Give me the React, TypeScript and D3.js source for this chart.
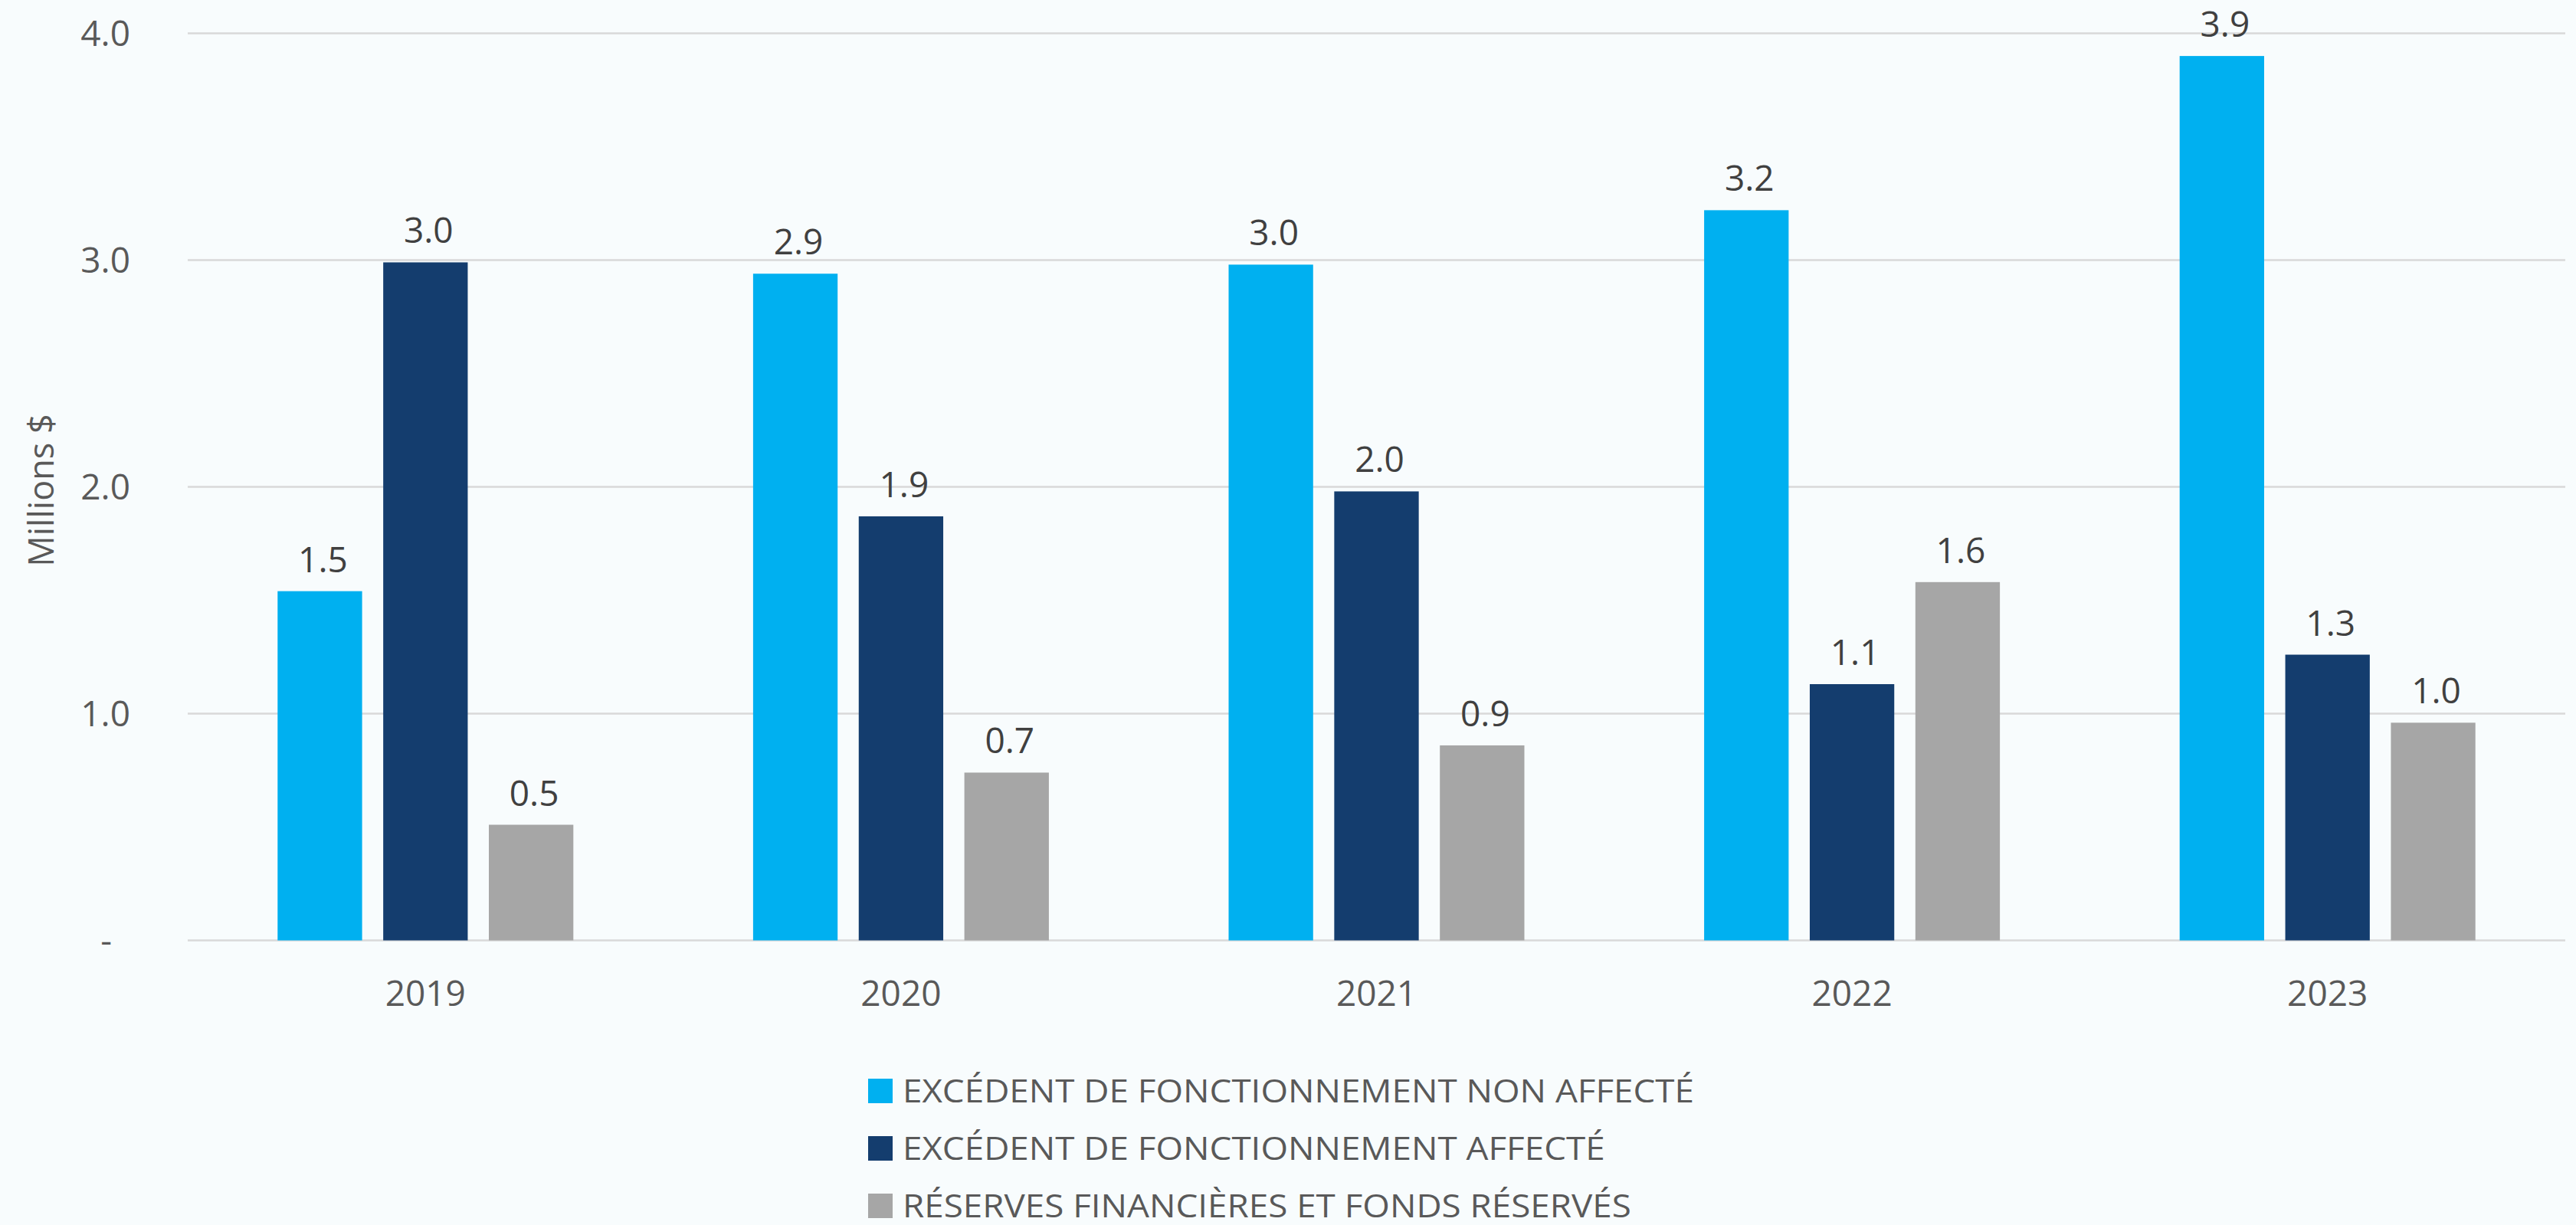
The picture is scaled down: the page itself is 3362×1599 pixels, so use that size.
import React from "react";
import * as d3 from "d3";

const years = ["2019", "2020", "2021", "2022", "2023"];
const seriesNames = [
  "EXCÉDENT DE FONCTIONNEMENT NON AFFECTÉ",
  "EXCÉDENT DE FONCTIONNEMENT AFFECTÉ",
  "RÉSERVES FINANCIÈRES ET FONDS RÉSERVÉS",
];
const nonAffecte = [1.54, 2.94, 2.98, 3.22, 3.9];
const affecte = [2.99, 1.87, 1.98, 1.13, 1.26];
const reserves = [0.51, 0.74, 0.86, 1.58, 0.96];
const yTicks = [0, 1, 2, 3, 4];
const yAxisTitle = "Millions $";
const colors = ["#00B0F0", "#143D6E", "#A6A6A6"];

const W = 3362;
const H = 1599;
const FONT = "'Open Sans', 'Noto Sans', sans-serif";

export default function App() {
  const seriesValues = [nonAffecte, affecte, reserves];
  const y = d3.scaleLinear().domain([0, 4]).range([1227.5, 43.5]);
  const x0 = d3.scaleBand<string>().domain(years).range([245, 3348]).padding(0);
  const groupW = 386;
  const x1 = d3
    .scaleBand<number>()
    .domain([0, 1, 2])
    .range([0, groupW])
    .paddingInner(0.2)
    .paddingOuter(0);
  const off = (x0.bandwidth() - groupW) / 2;
  const fmt = d3.format(".1f");

  return (
    <svg
      width={W}
      height={H}
      style={{ position: "absolute", left: 0, top: 0, display: "block" }}
    >
      <rect x={0} y={0} width={W} height={H} fill="#F8FCFD" />
      {/* gridlines */}
      {yTicks.map((t) => (
        <line
          key={"g" + t}
          x1={245}
          x2={3348}
          y1={y(t)}
          y2={y(t)}
          stroke="#D9D9D9"
          strokeWidth={2.5}
        />
      ))}
      {/* y tick labels */}
      {yTicks.map((t) => (
        <text
          key={"t" + t}
          x={t === 0 ? 146 : 170}
          y={y(t)}
          dy="0.35em"
          textAnchor="end"
          fontFamily={FONT}
          fontSize={46}
          fill="#595959"
        >
          {t === 0 ? "-" : fmt(t)}
        </text>
      ))}
      {/* y axis title */}
      <text
        transform={`translate(70, 640) rotate(-90)`}
        textAnchor="middle"
        fontFamily={FONT}
        fontSize={45}
        fill="#595959"
      >
        {yAxisTitle}
      </text>
      {/* bars */}
      {years.map((yr, i) => (
        <g key={yr} transform={`translate(${(x0(yr) as number) + off},0)`}>
          {seriesValues.map((vals, s) => {
            const bx = x1(s) as number;
            const bw = x1.bandwidth();
            return (
              <g key={s}>
                <rect
                  x={bx}
                  y={y(vals[i])}
                  width={bw}
                  height={y(0) - y(vals[i])}
                  fill={colors[s]}
                />
                <text
                  x={bx + bw / 2 + 4}
                  y={y(vals[i]) - 25}
                  textAnchor="middle"
                  fontFamily={FONT}
                  fontSize={46}
                  fill="#404040"
                >
                  {fmt(vals[i])}
                </text>
              </g>
            );
          })}
        </g>
      ))}
      {/* x labels */}
      {years.map((yr) => (
        <text
          key={"x" + yr}
          x={(x0(yr) as number) + x0.bandwidth() / 2}
          y={1313}
          textAnchor="middle"
          fontFamily={FONT}
          fontSize={46}
          fill="#595959"
        >
          {yr}
        </text>
      ))}
      {/* legend */}
      {seriesNames.map((name, s) => {
        const cy = 1424 + s * 75;
        return (
          <g key={name}>
            <rect x={1133} y={cy - 16} width={32} height={32} fill={colors[s]} />
            <text
              transform={`translate(1178, ${cy + 15}) scale(1.09, 1)`}
              fontFamily={FONT}
              fontSize={42}
              fill="#595959"
            >
              {name}
            </text>
          </g>
        );
      })}
    </svg>
  );
}
